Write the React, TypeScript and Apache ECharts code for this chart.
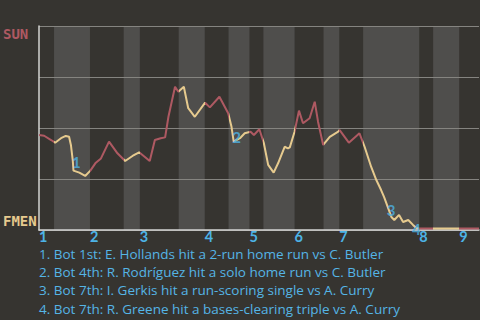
import React, { useEffect, useRef } from "react";
import * as echarts from "echarts";

// x = plate-appearance progress (0..120), y = SUN win probability (0..1)
const winProb: [number, number][] = [
  [0, 0.466], [1.4, 0.462], [3.3, 0.441], [4.4, 0.428], [6.0, 0.45], [7.3, 0.461], [8.2, 0.457],
  [8.7, 0.417], [9.2, 0.343], [9.4, 0.291], [11.0, 0.281], [12.6, 0.265], [14.0, 0.291],
  [15.5, 0.33], [16.9, 0.351], [19.1, 0.433], [21.4, 0.376], [23.5, 0.338], [25.5, 0.363],
  [27.3, 0.381], [28.8, 0.359], [30.2, 0.338], [31.6, 0.441], [33.2, 0.45], [34.4, 0.454],
  [35.3, 0.555], [37.1, 0.702], [38.0, 0.678], [39.5, 0.702], [40.7, 0.597], [42.5, 0.555],
  [45.3, 0.624], [46.6, 0.601], [49.2, 0.653], [51.6, 0.572], [52.5, 0.506], [53.1, 0.433],
  [54.8, 0.45], [56.1, 0.474], [57.7, 0.482], [58.6, 0.466], [60.1, 0.494], [61.3, 0.428],
  [62.5, 0.319], [64.0, 0.281], [65.2, 0.327], [67.0, 0.408], [67.9, 0.4], [68.4, 0.405],
  [69.7, 0.482], [70.9, 0.585], [72.0, 0.523], [73.8, 0.548], [75.2, 0.629], [76.1, 0.531],
  [77.5, 0.417], [79.3, 0.457], [81.6, 0.482], [82.0, 0.49], [84.5, 0.428], [87.4, 0.474],
  [88.8, 0.408], [90.6, 0.309], [92.0, 0.245], [93.3, 0.196], [94.1, 0.162], [95.2, 0.108],
  [96.1, 0.064], [96.9, 0.049], [98.2, 0.074], [99.3, 0.039], [100.7, 0.049], [102.0, 0.025],
  [102.9, 0.01], [103.7, 0.007], [120, 0.007],
];

// half-inning boundaries
const topHalves: [number, number][] = [
  [0, 4.1], [13.9, 23.1], [27.5, 38.1], [45.2, 51.7], [57.4, 61.2], [69.7, 77.6], [81.9, 88.4], [103.7, 107.5], [114.6, 120],
];
const bottomHalves: [number, number][] = [
  [4.1, 13.9], [23.1, 27.5], [38.1, 45.2], [51.7, 57.4], [61.2, 69.7], [77.6, 81.9], [88.4, 103.7], [107.5, 114.6],
];
const inningStarts = [0, 13.9, 27.5, 45.2, 57.4, 69.7, 81.9, 103.7, 114.6];
const inningLabels = ["1", "2", "3", "4", "5", "6", "7", "8", "9"];

// key plays
const keyPlays: { x: number; y: number; label: string; offset: [number, number] }[] = [
  { x: 9.4, y: 0.291, label: "1", offset: [3, -9] },
  { x: 53.1, y: 0.433, label: "2", offset: [3, -5] },
  { x: 95.2, y: 0.108, label: "3", offset: [3, 2] },
  { x: 102.9, y: 0.01, label: "4", offset: [0, 1] },
];
const playNotes = [
  "1. Bot 1st: E. Hollands hit a 2-run home run vs C. Butler",
  "2. Bot 4th: R. Rodríguez hit a solo home run vs C. Butler",
  "3. Bot 7th: I. Gerkis hit a run-scoring single vs A. Curry",
  "4. Bot 7th: R. Greene hit a bases-clearing triple vs A. Curry",
];

const AWAY = "SUN";
const HOME = "FMEN";

const BG = "#363430";
const BAND = "#4f4e4c";
const RED = "#ae5962";
const YELLOW = "#e6ca8e";
const BLUE = "#4db3e6";

export default function App() {
  const ref = useRef<HTMLDivElement>(null);
  useEffect(() => {
    if (!ref.current) return;
    const chart = echarts.init(ref.current, undefined, { renderer: "svg" });
    const pieces = [
      ...topHalves.map(([a, b]) => ({ gte: a, lt: b, color: RED })),
      ...bottomHalves.map(([a, b]) => ({ gte: a, lt: b, color: YELLOW })),
    ];
    pieces[topHalves.length - 1] = { gte: 114.6, lte: 120, color: RED } as any;
    chart.setOption({
      animation: false,
      backgroundColor: BG,
      grid: { left: 38, right: 1, top: 26, bottom: 90 },
      xAxis: {
        type: "value",
        min: 0,
        max: 120,
        z: 2,
        axisLine: { show: true, lineStyle: { color: "#d4d4d2", width: 1.5 } },
        axisTick: { show: false },
        splitLine: { show: false },
        axisLabel: {
          customValues: inningStarts,
          formatter: (v: number) => {
            const i = inningStarts.findIndex((s) => Math.abs(s - v) < 0.01);
            return i >= 0 ? inningLabels[i] : "";
          },
          align: "left",
          verticalAlign: "top",
          margin: 0,
          lineHeight: 13,
          color: BLUE,
          fontSize: 14.5,
          fontWeight: "bold",
          fontFamily: "Lato",
        },
      },
      yAxis: {
        type: "value",
        min: 0,
        max: 1,
        interval: 0.25,
        z: 2,
        axisLine: { show: true, lineStyle: { color: "#d4d4d2", width: 1.5 } },
        axisTick: { show: false },
        splitLine: { show: true, lineStyle: { color: "#858480", width: 1 } },
        axisLabel: {
          align: "left",
          margin: 36,
          formatter: (v: number) => (v === 1 ? `{a|${AWAY}}` : v === 0 ? `{h|${HOME}}` : ""),
          rich: {
            a: {
              color: RED,
              fontFamily: "DejaVu Sans Mono",
              fontWeight: "bold",
              fontSize: 14,
              padding: [16, 0, 0, 0],
            },
            h: {
              color: YELLOW,
              fontFamily: "DejaVu Sans Mono",
              fontWeight: "bold",
              fontSize: 14,
              padding: [0, 0, 18, 0],
            },
          },
        },
      },
      visualMap: {
        type: "piecewise",
        show: false,
        dimension: 0,
        seriesIndex: 0,
        pieces,
      },
      series: [
        {
          type: "line",
          data: winProb,
          showSymbol: false,
          z: 3,
          lineStyle: { width: 2 },
        },
        {
          type: "line",
          data: [[0, 0]],
          showSymbol: false,
          z: 1,
          lineStyle: { opacity: 0 },
          markArea: {
            silent: true,
            itemStyle: { color: BAND },
            data: bottomHalves.map(([a, b]) => [{ xAxis: a }, { xAxis: b }]),
          },
        },
        {
          type: "scatter",
          z: 5,
          symbolSize: 0,
          data: keyPlays.map((p) => ({
            value: [p.x, p.y],
            label: {
              show: true,
              formatter: p.label,
              position: "inside",
              offset: p.offset,
              color: BLUE,
              fontSize: 15,
              fontWeight: "bold",
              fontFamily: "Lato",
            },
          })),
        },
      ],
      graphic: playNotes.map((t, i) => ({
        type: "text",
        left: 39,
        top: 247 + i * 18.2,
        style: { text: t, fill: "#55b5e6", fontSize: 13.5, lineHeight: 14, fontFamily: "Open Sans" },
      })),
    });
    return () => chart.dispose();
  }, []);
  return (
    <div
      ref={ref}
      style={{ position: "fixed", left: 0, top: 0, width: 480, height: 320 }}
    />
  );
}
